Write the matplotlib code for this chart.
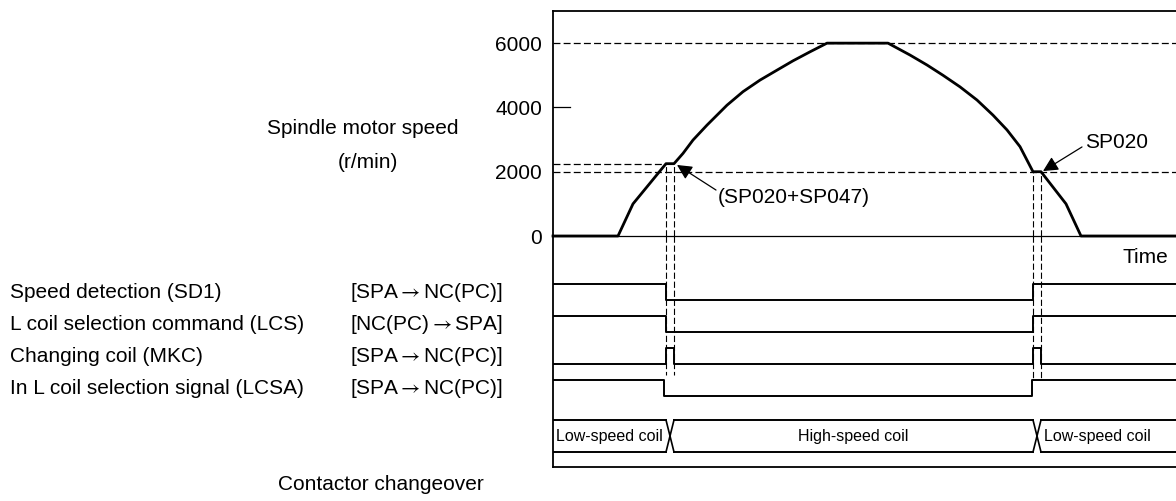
import matplotlib
matplotlib.use('Agg')
import matplotlib.pyplot as plt
from matplotlib.transforms import blended_transform_factory

plt.rcParams['font.family'] = ['Liberation Sans', 'DejaVu Sans']
plt.rcParams['font.size'] = 15
plt.rcParams['mathtext.fontset'] = 'stixsans'
plt.rcParams['lines.scale_dashes'] = False

# Скорость шпинделя (время в условных единицах, r/min)
time_pts = [0.0, 6.5, 8.0, 11.3, 12.1, 13.0, 14.0, 15.4, 17.4, 19.0, 20.7,
            22.4, 24.0, 25.7, 27.4, 33.5, 35.7, 37.4, 39.0, 40.7, 42.4,
            44.0, 45.4, 46.7, 48.0, 48.8, 51.3, 52.8, 62.5]
speed_pts = [0, 0, 1000, 2250, 2250, 2570, 2985, 3450, 4070, 4490, 4850,
             5160, 5450, 5730, 6000, 6000, 5630, 5320, 5000, 4640, 4230,
             3760, 3300, 2780, 2000, 2000, 1000, 0, 0]

speed_ticks = [0, 2000, 4000, 6000]
sp020 = 2000
sp020_sp047 = 2250
t_end = 62.5

# моменты переключения (разгон / торможение)
t_accel = [11.3, 12.1]
t_decel = [48.0, 48.8]

# сигналы: подписи, направление, моменты, уровни
signal_names = ['Speed detection (SD1)', 'L coil selection command (LCS)',
                'Changing coil (MKC)', 'In L coil selection signal (LCSA)']
signal_dirs = [r'[SPA$\rightarrow$NC(PC)]', r'[NC(PC)$\rightarrow$SPA]',
               r'[SPA$\rightarrow$NC(PC)]', r'[SPA$\rightarrow$NC(PC)]']
signal_times = [
    [0, 11.3, 48.0, t_end],
    [0, 11.3, 48.0, t_end],
    [0, 11.3, 12.1, 48.0, 48.8, t_end],
    [0, 11.1, 47.9, t_end],
]
signal_levels = [
    [1, 0, 1, 1],
    [1, 0, 1, 1],
    [0, 1, 0, 1, 0, 0],
    [1, 0, 1, 1],
]

coil_segments = [(0, 11.3, 'Low-speed coil'),
                 (12.1, 48.0, 'High-speed coil'),
                 (48.8, t_end, 'Low-speed coil')]

# Фигура
fig = plt.figure(figsize=(11.76, 5.01), dpi=100)
W, H = 1176, 501
x0, x1 = 553, 1178
ax2 = fig.add_axes([x0 / W, 1 - 467 / H, (x1 - x0) / W, 231 / H])
ax = fig.add_axes([x0 / W, 1 - 236 / H, (x1 - x0) / W, 225 / H], sharex=ax2)
ax.patch.set_visible(False)
ax2.patch.set_visible(False)

ax.set_xlim(0, t_end)
ax.set_ylim(0, 7000)
ax2.set_ylim(231 / 32, 0)

for a in (ax, ax2):
    for sp in a.spines.values():
        sp.set_linewidth(1.3)
    a.spines['right'].set_visible(False)
    a.set_xticks([])
ax.spines['bottom'].set_visible(False)
ax2.spines['top'].set_visible(False)
ax2.set_yticks([])

ax.set_yticks(speed_ticks)
ax.set_yticklabels([str(v) for v in speed_ticks])
ax.tick_params(axis='y', length=0, pad=8, labelsize=15)

# Опорные линии
dash = (0, (5, 2.3))
ax.axhline(0, color='black', lw=0.9, clip_on=False)
ax.axhline(6000, color='black', lw=0.9, ls=dash)
ax.axhline(sp020, color='black', lw=0.9, ls=dash)
ax.plot([0, t_accel[0]], [sp020_sp047, sp020_sp047], color='black', lw=0.9, ls=dash)
ax.axhline(4000, xmin=0, xmax=0.027, color='black', lw=0.9)

# Кривая скорости
ax.plot(time_pts, speed_pts, color='black', lw=2.0, solid_joinstyle='round',
        clip_on=False)

# Вертикальные штриховые
vdash = (0, (4.5, 2))
for t in t_accel:
    ax.plot([t, t], [0, sp020_sp047], color='black', lw=0.8, ls=vdash)
    ax2.plot([t, t], [0, 4.35], color='black', lw=0.8, ls=vdash)
for t in t_decel:
    ax.plot([t, t], [0, sp020], color='black', lw=0.8, ls=vdash)
    ax2.plot([t, t], [0, 4.45], color='black', lw=0.8, ls=vdash)

# Стрелки и подписи
arr = dict(arrowstyle='-|>,head_length=0.6,head_width=0.3', color='black',
           lw=0.9, mutation_scale=15, shrinkA=0, shrinkB=0)
ax.annotate('', xy=(12.4, 2210), xytext=(16.3, 1430), arrowprops=arr)
ax.text(16.5, 1210, '(SP020+SP047)', ha='left', va='center')
ax.annotate('', xy=(49.0, 2020), xytext=(52.9, 2770), arrowprops=arr)
ax.text(53.2, 2920, 'SP020', ha='left', va='center')
ax2.text(61.5, 0.66, 'Time', ha='right', va='center')

# Сигналы
for i, (tt, lv) in enumerate(zip(signal_times, signal_levels)):
    low = i + 2
    ax2.step(tt, [low - 0.5 * v for v in lv], where='post', color='black', lw=1.4)

# Полоса катушек
top, bot = 5.75, 6.75
for a_t, b_t, name in coil_segments:
    ax2.plot([a_t, b_t], [top, top], color='black', lw=1.4)
    ax2.plot([a_t, b_t], [bot, bot], color='black', lw=1.4)
for ta, tb in (t_accel, t_decel):
    ax2.plot([ta, tb], [top, bot], color='black', lw=1.2)
    ax2.plot([ta, tb], [bot, top], color='black', lw=1.2)
mid = (top + bot) / 2
coil_fs = 11.5
ax2.text((coil_segments[0][0] + coil_segments[0][1]) / 2, mid, coil_segments[0][2],
         ha='center', va='center', fontsize=coil_fs)
ax2.text((coil_segments[1][0] + coil_segments[1][1]) / 2, mid, coil_segments[1][2],
         ha='center', va='center', fontsize=coil_fs)
ax2.text(coil_segments[2][0] + 0.3, mid, coil_segments[2][2], ha='left',
         va='center', fontsize=coil_fs)

# Подписи слева
tr = blended_transform_factory(fig.transFigure, ax2.transData)
for i, (name, d) in enumerate(zip(signal_names, signal_dirs)):
    y = i + 1.75
    fig.text(10 / W, y, name, transform=tr, ha='left', va='center')
    fig.text(503 / W, y, d, transform=tr, ha='right', va='center')

fig.text(363 / W, 1 - 129 / H, 'Spindle motor speed', ha='center', va='center')
fig.text(368 / W, 1 - 162 / H, '(r/min)', ha='center', va='center')
fig.text(381 / W, 1 - 485 / H, 'Contactor changeover', ha='center', va='center')

fig.savefig('out.png', dpi=100)
